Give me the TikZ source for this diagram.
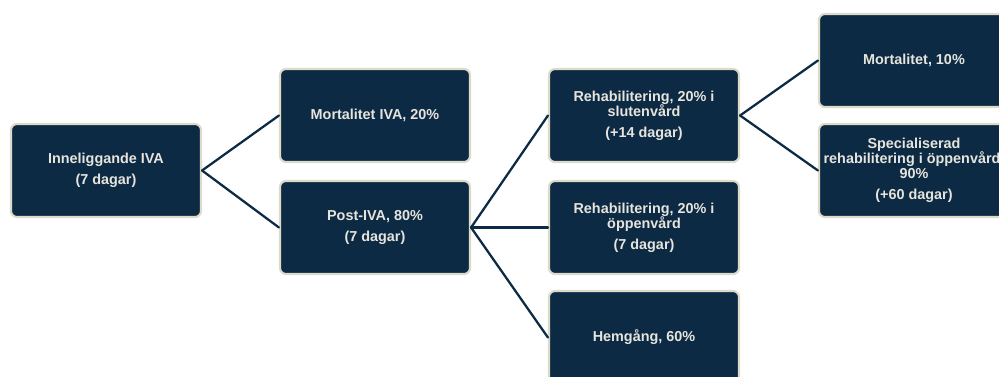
\documentclass[tikz,border=0pt]{standalone}
\usepackage{fontspec}
\setmainfont{Liberation Sans}
\usepackage{tikz}
\usetikzlibrary{positioning}
\definecolor{treenavy}{RGB}{12,42,68}
\definecolor{treeedge}{RGB}{222,218,202}
\definecolor{treetext}{RGB}{230,228,220}
\begin{document}
\begin{tikzpicture}[x=0.75pt,y=-0.75pt,line cap=round,
 stagebox/.style={draw=treeedge,fill=treenavy,line width=1.6pt,rounded corners=4.5pt,
  minimum width=142.5pt,minimum height=69.75pt,inner sep=1pt,align=center,
  text=treetext,font=\fontsize{10.8}{11.3}\selectfont\bfseries},
 branch/.style={draw=treenavy,line width=1.7pt}]
\clip (0,0) rectangle (999,376);
\fill[white] (0,0) rectangle (999,376);
\node[stagebox] (inne) at (106,170.5) {Inneliggande IVA\\[4.5pt](7 dagar)};
\node[stagebox] (mortiva) at (375,115.5) {Mortalitet IVA, 20\%};
\node[stagebox] (postiva) at (375,227.5) {Post-IVA, 80\%\\[4.5pt](7 dagar)};
\node[stagebox] (rehabsluten) at (644,115.5) {Rehabilitering, 20\% i\\slutenvård\\[4.5pt](+14 dagar)};
\node[stagebox] (rehaboppen) at (644,227.5) {Rehabilitering, 20\% i\\öppenvård\\[4.5pt](7 dagar)};
\node[stagebox] (hemgang) at (644,337.5) {Hemgång, 60\%};
\node[stagebox] (mort) at (914,60.5) {Mortalitet, 10\%};
\node[stagebox] (spec) at (914,170.5) {Specialiserad\\rehabilitering i öppenvård,\\90\%\\[4.5pt](+60 dagar)};
\foreach \a/\b in {inne/mortiva,inne/postiva,postiva/rehabsluten,postiva/rehaboppen,
 postiva/hemgang,rehabsluten/mort,rehabsluten/spec}
 \draw[branch] (\a.east) -- (\b.west);
\end{tikzpicture}
\end{document}
